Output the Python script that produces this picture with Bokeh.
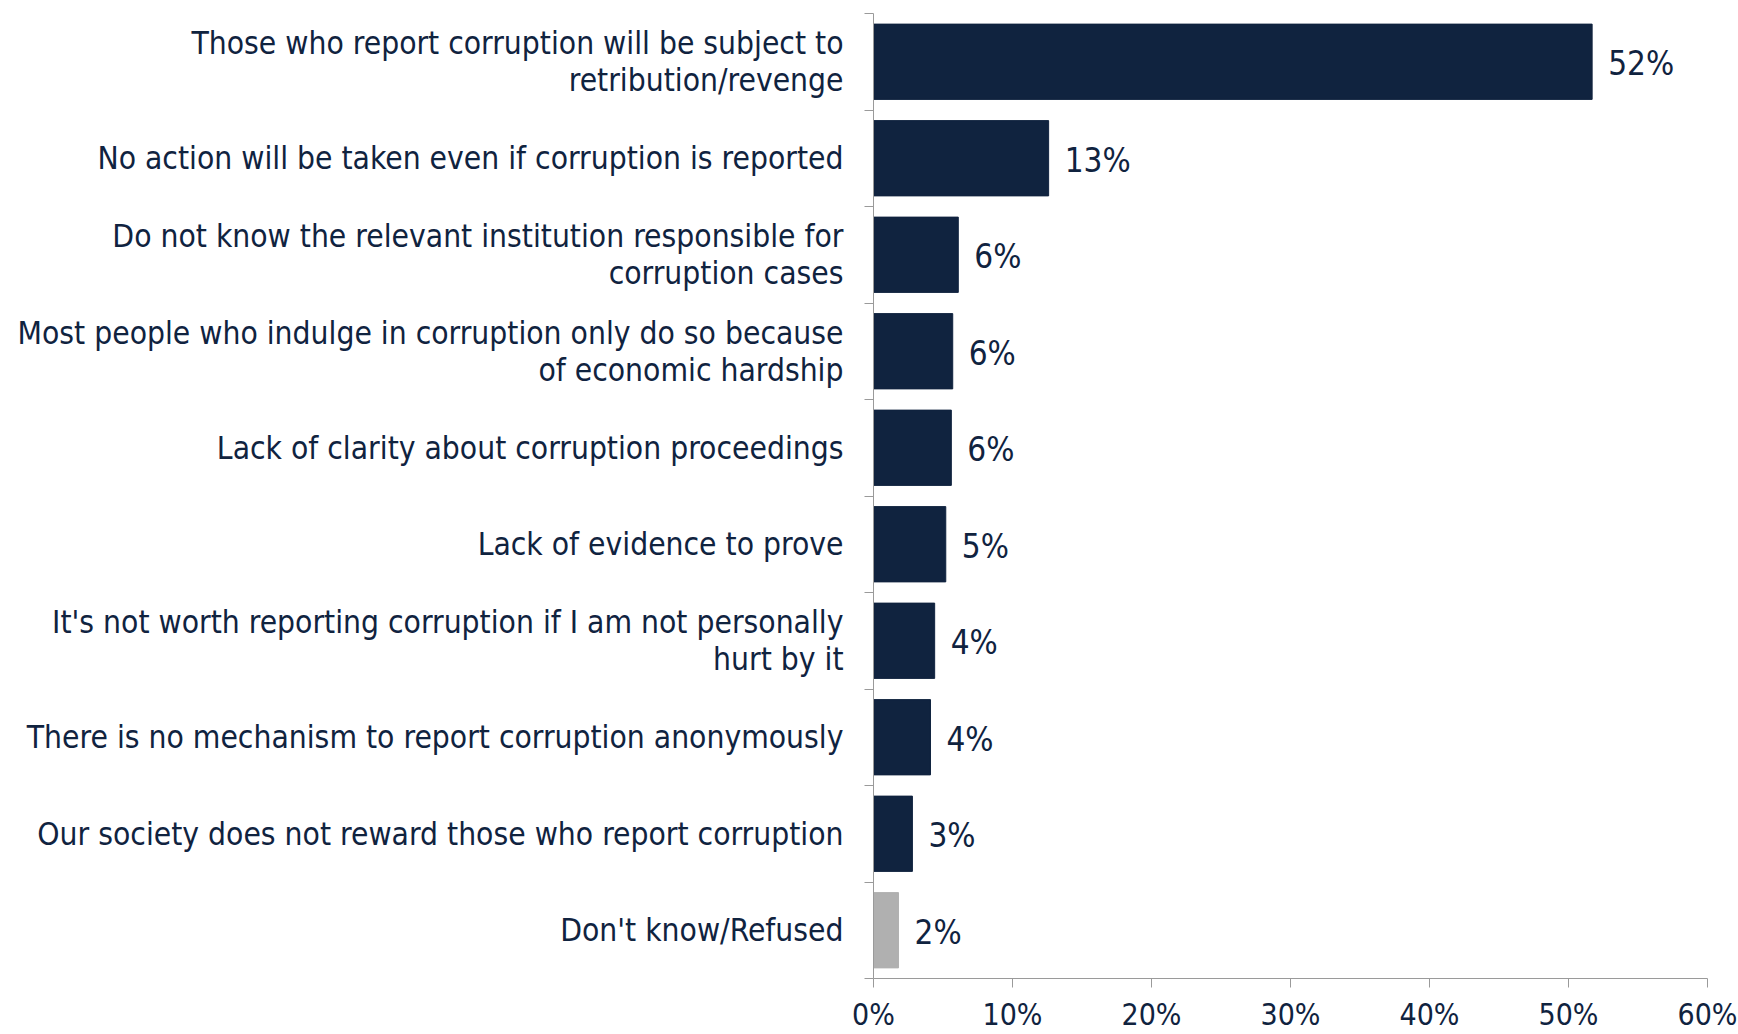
from bokeh.plotting import figure
from bokeh.models import ColumnDataSource, FixedTicker, Range1d, LabelSet
from bokeh.core.properties import value
from bokeh.embed import file_html
from bokeh.resources import INLINE

categories = [
    "Those who report corruption will be subject to\nretribution/revenge",
    "No action will be taken even if corruption is reported",
    "Do not know the relevant institution responsible for\ncorruption cases",
    "Most people who indulge in corruption only do so because\nof economic hardship",
    "Lack of clarity about corruption proceedings",
    "Lack of evidence to prove",
    "It's not worth reporting corruption if I am not personally\nhurt by it",
    "There is no mechanism to report corruption anonymously",
    "Our society does not reward those who report corruption",
    "Don't know/Refused",
]
values = [51.7, 12.6, 6.1, 5.7, 5.6, 5.2, 4.4, 4.1, 2.8, 1.8]
bar_colors = ["#10233f"] * 9 + ["#b0b0b0"]
x_ticks = [0, 10, 20, 30, 40, 50, 60]

FONT = "DejaVu Sans Condensed"
NAVY = "#10233f"
AXIS = "#9a9a9a"

n = len(categories)
ypos = [n - i - 0.5 for i in range(n)]
labels = [f"{round(v)}%" for v in values]

src = ColumnDataSource(dict(y=ypos, v=values, c=bar_colors, lab=labels))

W, H = 1738, 1034
p = figure(width=W, height=H, output_backend="svg", toolbar_location=None,
           x_range=Range1d(0, 60), y_range=Range1d(0, n),
           min_border_left=873, min_border_right=W - 1707, min_border_top=13,
           min_border_bottom=H - 980)
p.outline_line_color = None
p.grid.visible = False

p.hbar(y="y", right="v", left=0, height=0.78, color="c", source=src)

ls = LabelSet(x="v", y="y", text="lab", source=src, x_offset=16, y_offset=-2,
              text_baseline="middle", text_font=value(FONT), text_font_size=value("33px"),
              text_color=NAVY)
p.add_layout(ls)

xa = p.xaxis[0]
xa.ticker = FixedTicker(ticks=x_ticks)
xa.major_label_overrides = {t: f"{t}%" for t in x_ticks}
xa.axis_line_color = AXIS
xa.major_tick_line_color = AXIS
xa.major_tick_out = 9
xa.major_tick_in = 0
xa.minor_tick_line_color = None
xa.major_label_standoff = 9
xa.major_label_text_font = FONT
xa.major_label_text_font_size = "30px"
xa.major_label_text_color = NAVY

ya = p.yaxis[0]
ya.ticker = FixedTicker(ticks=ypos, minor_ticks=list(range(n + 1)))
ya.major_label_overrides = {y: c for y, c in zip(ypos, categories)}
ya.axis_line_color = AXIS
ya.major_tick_line_color = None
ya.major_tick_out = 0
ya.major_tick_in = 0
ya.minor_tick_line_color = AXIS
ya.minor_tick_out = 9
ya.minor_tick_in = 0
ya.major_label_standoff = 21
ya.major_label_text_font = FONT
ya.major_label_text_font_size = "31.5px"
ya.major_label_text_color = NAVY
ya.major_label_text_line_height = 1.04

open("out.html", "w").write(file_html(p, INLINE))
